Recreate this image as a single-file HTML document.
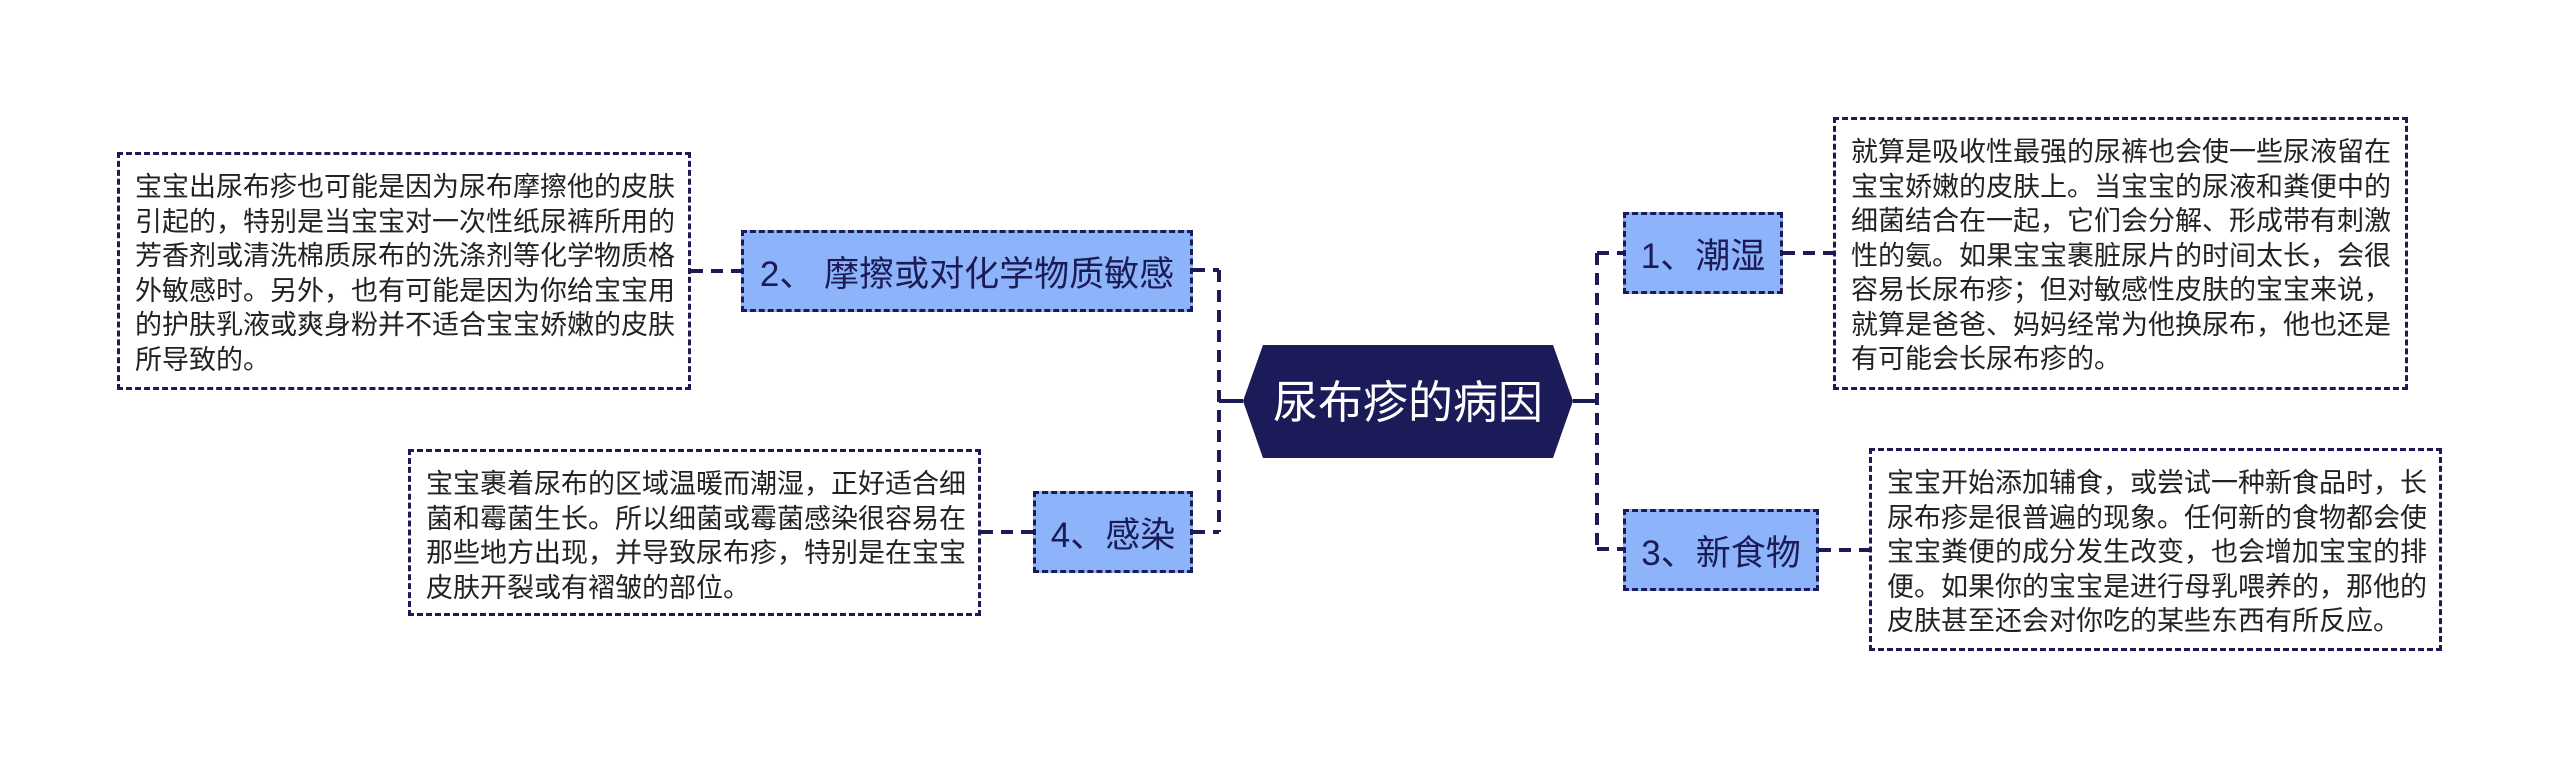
<!DOCTYPE html>
<html><head><meta charset="utf-8"><style>
body{margin:0;width:2560px;height:769px;background:#fff;position:relative;overflow:hidden;font-family:"Liberation Sans","Noto Sans CJK SC",sans-serif;}
.t{position:absolute;box-sizing:border-box;border:3px dashed #1c1b55;color:#222;font-size:27px;line-height:34.5px;white-space:nowrap;padding:15px 0 0 15px;}
.n{position:absolute;box-sizing:border-box;border:3px dashed #1c1b55;background:#8db4fb;color:#1c1b55;font-size:35px;display:flex;align-items:center;justify-content:center;white-space:nowrap;}
svg{position:absolute;left:0;top:0}
</style></head><body>
<svg width="2560" height="769">
<g stroke="#1c1b55" stroke-width="4" fill="none" stroke-dasharray="12,8">
<path d="M1219 270 V532"/>
<path d="M1193 270 H1219"/>
<path d="M1193 532 H1219"/>
<path d="M691 271 H741"/>
<path d="M981 532 H1033"/>
<path d="M1597 253 V549"/>
<path d="M1597 253 H1623"/>
<path d="M1597 549 H1623"/>
<path d="M1783 253 H1833"/>
<path d="M1819 550 H1869"/>
</g>
<g stroke="#1c1b55" stroke-width="4">
<path d="M1219 401 H1243"/><path d="M1573 401 H1597"/>
</g>
<polygon points="1243,401 1263,345 1553,345 1573,401 1553,458 1263,458" fill="#1c1b5a"/>
<text x="1408" y="418" fill="#fff" font-size="45" text-anchor="middle" font-family="Liberation Sans, Noto Sans CJK SC, sans-serif">尿布疹的病因</text>
</svg>
<div class="n" style="left:741px;top:230px;width:452px;height:82px">2、 摩擦或对化学物质敏感</div>
<div class="n" style="left:1033px;top:491px;width:160px;height:82px">4、感染</div>
<div class="n" style="left:1623px;top:212px;width:160px;height:82px">1、潮湿</div>
<div class="n" style="left:1623px;top:509px;width:196px;height:82px">3、新食物</div>
<div class="t" style="left:117px;top:152px;width:574px;height:238px">宝宝出尿布疹也可能是因为尿布摩擦他的皮肤<br>引起的，特别是当宝宝对一次性纸尿裤所用的<br>芳香剂或清洗棉质尿布的洗涤剂等化学物质格<br>外敏感时。另外，也有可能是因为你给宝宝用<br>的护肤乳液或爽身粉并不适合宝宝娇嫩的皮肤<br>所导致的。</div>
<div class="t" style="left:408px;top:449px;width:573px;height:167px">宝宝裹着尿布的区域温暖而潮湿，正好适合细<br>菌和霉菌生长。所以细菌或霉菌感染很容易在<br>那些地方出现，并导致尿布疹，特别是在宝宝<br>皮肤开裂或有褶皱的部位。</div>
<div class="t" style="left:1833px;top:117px;width:575px;height:273px">就算是吸收性最强的尿裤也会使一些尿液留在<br>宝宝娇嫩的皮肤上。当宝宝的尿液和粪便中的<br>细菌结合在一起，它们会分解、形成带有刺激<br>性的氨。如果宝宝裹脏尿片的时间太长，会很<br>容易长尿布疹；但对敏感性皮肤的宝宝来说，<br>就算是爸爸、妈妈经常为他换尿布，他也还是<br>有可能会长尿布疹的。</div>
<div class="t" style="left:1869px;top:448px;width:573px;height:203px">宝宝开始添加辅食，或尝试一种新食品时，长<br>尿布疹是很普遍的现象。任何新的食物都会使<br>宝宝粪便的成分发生改变，也会增加宝宝的排<br>便。如果你的宝宝是进行母乳喂养的，那他的<br>皮肤甚至还会对你吃的某些东西有所反应。</div>
</body></html>
